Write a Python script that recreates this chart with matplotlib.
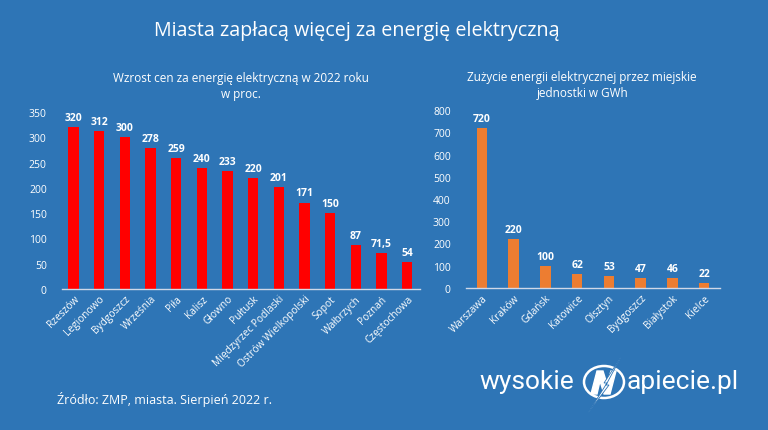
import matplotlib
matplotlib.use("Agg")
import matplotlib.pyplot as plt
from matplotlib.patches import Ellipse, Polygon

plt.rcParams['font.family'] = ['Open Sans', 'DejaVu Sans']

BG = '#2E75B6'
FG = 'white'

cities_left = ['Rzeszów', 'Legionowo', 'Bydgoszcz', 'Września', 'Piła', 'Kalisz', 'Głowno',
               'Pułtusk', 'Międzyrzec Podlaski', 'Ostrów Wielkopolski', 'Sopot', 'Wałbrzych',
               'Poznań', 'Częstochowa']
values_left = [320, 312, 300, 278, 259, 240, 233, 220, 201, 171, 150, 87, 71.5, 54]
labels_left = ['320', '312', '300', '278', '259', '240', '233', '220', '201', '171', '150', '87', '71,5', '54']

cities_right = ['Warszawa', 'Kraków', 'Gdańsk', 'Katowice', 'Olsztyn', 'Bydgoszcz', 'Białystok', 'Kielce']
values_right = [720, 220, 100, 62, 53, 47, 46, 22]

fig = plt.figure(figsize=(7.68, 4.31), dpi=100, facecolor=BG)

def style(ax):
    ax.set_facecolor(BG)
    for s in ['top', 'right', 'left']:
        ax.spines[s].set_visible(False)
    ax.spines['bottom'].set_color('#d0d8e8')
    ax.spines['bottom'].set_linewidth(1.0)
    ax.tick_params(axis='both', length=0, colors=FG, labelsize=7.5)
    ax.tick_params(axis='y', pad=11)
    ax.tick_params(axis='x', pad=3)

# Left chart
ax1 = fig.add_axes([62/768, 1-290/431, 358/768, 177/431])
style(ax1)
x1 = range(len(cities_left))
ax1.bar(x1, values_left, width=0.4, color='#FF0000')
ax1.set_xlim(-0.45, 13.5)
ax1.set_ylim(0, 350)
ax1.set_yticks(range(0, 351, 50))
ax1.set_xticks(list(x1))
ax1.set_xticklabels(cities_left, rotation=45, ha='right', rotation_mode='anchor', fontsize=7.3)
for xi, v, lab in zip(x1, values_left, labels_left):
    ax1.text(xi, v + 8, lab, ha='center', va='bottom', color=FG, fontsize=7.5, fontweight='bold')
ax1.set_title('Wzrost cen za energię elektryczną w 2022 roku\nw proc.', color=FG, fontsize=8.5,
              pad=11, linespacing=1.25)

# Right chart
ax2 = fig.add_axes([466/768, 1-289/431, 254/768, 178/431])
style(ax2)
x2 = range(len(cities_right))
ax2.bar(x2, values_right, width=0.33, color='#ED7D31')
ax2.set_xlim(-0.5, 7.5)
ax2.set_ylim(0, 800)
ax2.set_yticks(range(0, 801, 100))
ax2.set_xticks(list(x2))
ax2.set_xticklabels(cities_right, rotation=45, ha='right', rotation_mode='anchor', fontsize=7.3)
for xi, v in zip(x2, values_right):
    ax2.text(xi, v + 18, str(v), ha='center', va='bottom', color=FG, fontsize=7.5, fontweight='bold')
ax2.set_title('Zużycie energii elektrycznej przez miejskie\njednostki w GWh', color=FG, fontsize=8.5,
              pad=10, linespacing=1.35, x=0.457)

# Main title
fig.text(357/768, 1-31/431, 'Miasta zapłacą więcej za energię elektryczną', color=FG,
         fontsize=14.2, ha='center', va='center')

# Source
fig.text(57/768, 1-400/431, 'Źródło: ZMP, miasta. Sierpień 2022 r.', color=FG,
         fontsize=9.0, ha='left', va='center')

# Logo
fig.text(479/768, 1-382/431, 'wysokie', color=FG, fontsize=19, ha='left', va='center',
         family=['Roboto', 'DejaVu Sans'])
fig.text(627/768, 1-382/431, 'apiecie.pl', color=FG, fontsize=19, ha='left', va='center',
         family=['Roboto', 'DejaVu Sans'])
fig.add_artist(Ellipse((604/768, 1-383/431), 40/768, 32/431, transform=fig.transFigure,
                       fill=False, edgecolor=FG, linewidth=1.8))
fig.add_artist(Polygon([(591/768, 1-395/431), (597/768, 1-372/431), (603/768, 1-372/431),
                        (607/768, 1-385/431), (611/768, 1-372/431), (616/768, 1-372/431),
                        (610/768, 1-395/431), (604/768, 1-395/431), (600/768, 1-382/431),
                        (597/768, 1-395/431)],
                       closed=True, transform=fig.transFigure, facecolor=FG, edgecolor=FG))
fig.add_artist(Polygon([(621/768, 1-358/431), (604/768, 1-384/431), (607/768, 1-384/431),
                        (588/768, 1-414/431), (609/768, 1-386/431), (606/768, 1-386/431)],
                       closed=True, transform=fig.transFigure, facecolor=FG, edgecolor=BG,
                       linewidth=0.6))

fig.savefig('out.png', dpi=100, facecolor=BG)
